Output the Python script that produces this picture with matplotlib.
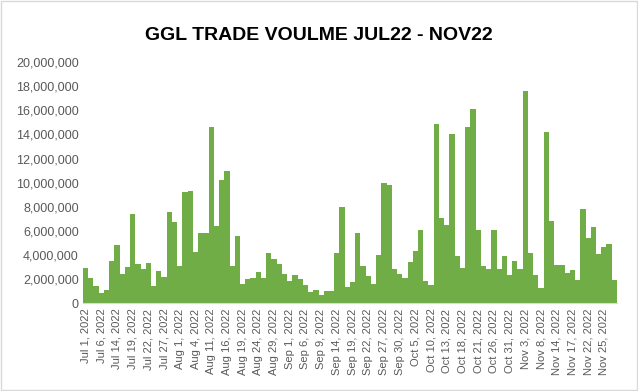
import numpy as np
import matplotlib.pyplot as plt
from matplotlib.patches import Rectangle

plt.rcParams['font.family'] = ['Liberation Sans', 'DejaVu Sans']

# trading dates (only every third one is shown on the axis)
dates = [
    "Jul 1", "Jul 4", "Jul 5", "Jul 6", "Jul 8", "Jul 12", "Jul 14", "Jul 15", "Jul 18",
    "Jul 19", "Jul 20", "Jul 21", "Jul 22", "Jul 25", "Jul 26", "Jul 27", "Jul 28", "Jul 29",
    "Aug 1", "Aug 2", "Aug 3", "Aug 4", "Aug 5", "Aug 10", "Aug 11", "Aug 12", "Aug 15",
    "Aug 16", "Aug 17", "Aug 18", "Aug 19", "Aug 22", "Aug 23", "Aug 24", "Aug 25", "Aug 26",
    "Aug 29", "Aug 30", "Aug 31", "Sep 1", "Sep 2", "Sep 5", "Sep 6", "Sep 7", "Sep 8",
    "Sep 9", "Sep 12", "Sep 13", "Sep 14", "Sep 15", "Sep 16", "Sep 19", "Sep 20", "Sep 21",
    "Sep 22", "Sep 23", "Sep 26", "Sep 27", "Sep 28", "Sep 29", "Sep 30", "Oct 3", "Oct 4",
    "Oct 5", "Oct 6", "Oct 7", "Oct 10", "Oct 11", "Oct 12", "Oct 13", "Oct 14", "Oct 17",
    "Oct 18", "Oct 19", "Oct 20", "Oct 21", "Oct 24", "Oct 25", "Oct 26", "Oct 27", "Oct 28",
    "Oct 31", "Nov 1", "Nov 2", "Nov 3", "Nov 4", "Nov 7", "Nov 8", "Nov 9", "Nov 11",
    "Nov 14", "Nov 15", "Nov 16", "Nov 17", "Nov 18", "Nov 21", "Nov 22", "Nov 23", "Nov 24",
    "Nov 25", "Nov 28", "Nov 29",
]
dates = [d + ", 2022" for d in dates]

# daily volume, millions
volume_m = [
    2.9, 2.07, 1.4, 0.83, 1.08, 3.5, 4.8, 2.4, 3.0, 7.4, 3.2, 2.8, 3.3, 1.4, 2.65, 2.2,
    7.55, 6.7, 3.07, 9.2, 9.3, 4.2, 5.8, 5.8, 14.6, 6.4, 10.2, 10.95, 3.07, 5.56, 1.58,
    2.0, 2.07, 2.57, 2.07, 4.15, 3.65, 3.2, 2.4, 1.83, 2.3, 2.0, 1.5, 0.91, 1.08, 0.66,
    1.0, 1.0, 4.15, 7.97, 1.33, 1.74, 5.8, 3.07, 2.24, 1.58, 4.0, 9.96, 9.8, 2.8, 2.4,
    2.07, 3.4, 4.3, 6.06, 1.83, 1.5, 14.9, 7.1, 6.5, 14.0, 3.9, 2.9, 14.6, 16.1, 6.06,
    3.07, 2.8, 6.06, 2.8, 3.9, 2.3, 3.5, 2.8, 17.6, 4.15, 2.3, 1.25, 14.2, 6.8, 3.15,
    3.15, 2.5, 2.74, 1.9, 7.8, 5.4, 6.3, 4.07, 4.65, 4.9, 1.9,
]
volume = np.array(volume_m) * 1e6

fig = plt.figure(figsize=(6.38, 3.91), dpi=100)
fig.patches.append(Rectangle((0.002, 0.003), 0.996, 0.994, transform=fig.transFigure,
                             fill=False, edgecolor='#D9D9D9', linewidth=1))
ax = fig.add_axes([0.130, 0.225, 0.837, 0.616])

x = np.arange(len(volume))
ax.bar(x, volume, width=1.0, color='#70AD47', linewidth=0)

ax.set_xlim(-0.5, len(volume) - 0.5)
ax.set_ylim(0, 20e6)
ax.set_yticks(np.arange(0, 20e6 + 1, 2e6))
ax.set_yticklabels([f"{int(v):,}" for v in np.arange(0, 20e6 + 1, 2e6)])
ax.set_xticks(x[::3])
ax.set_xticklabels(dates[::3], rotation=90)

for s in ['top', 'right', 'left']:
    ax.spines[s].set_visible(False)
ax.spines['bottom'].set_color('#D9D9D9')
ax.tick_params(axis='both', length=0, colors='#595959')
ax.tick_params(axis='y', labelsize=9, pad=3)
ax.tick_params(axis='x', labelsize=8, pad=4)

fig.text(0.5, 0.91, "GGL TRADE VOULME JUL22 - NOV22", ha='center', va='center',
         fontsize=14, fontweight='bold', color='#000000')

fig.savefig('out.png', dpi=100)
